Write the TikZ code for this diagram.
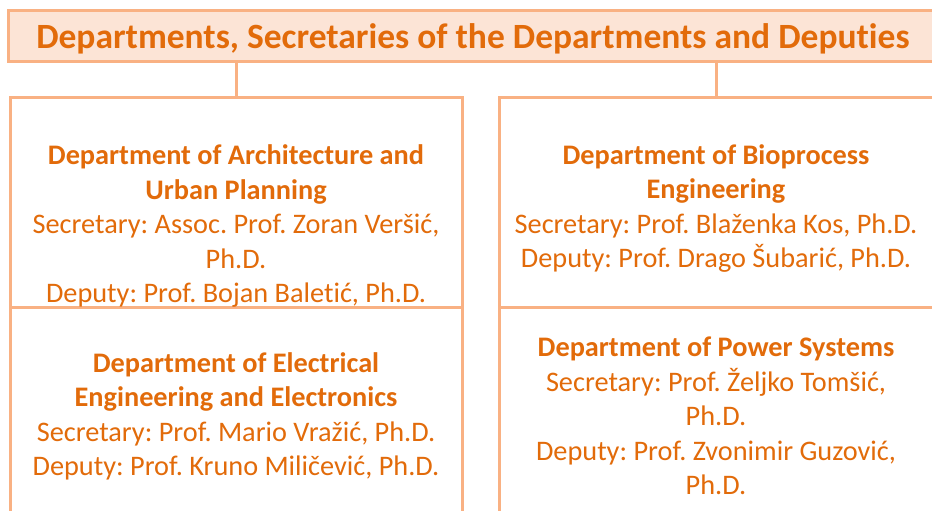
\documentclass[tikz,border=0pt]{standalone}
\usepackage{fontspec}
\setmainfont{Carlito}[RawFeature={-liga;-clig;-calt;-dlig;-rlig}]
\definecolor{txtor}{HTML}{E26B0A}
\definecolor{lnor}{HTML}{F9B183}
\definecolor{fillor}{HTML}{FCE4D6}
\tikzset{
  deptbox/.style={draw=lnor, line width=3pt, anchor=north west, inner sep=0pt, outer sep=0pt},
  titlebox/.style={draw=lnor, fill=fillor, line width=3pt, anchor=north west, inner sep=0pt, outer sep=0pt},
  titletext/.style={text=txtor, inner sep=0pt, font=\fontsize{35.5}{40}\selectfont\bfseries},
  depttext/.style={text=txtor, align=center, inner sep=0pt, font=\fontsize{28.3}{34.5}\selectfont},
  conn/.style={draw=lnor, line width=3pt}
}
\begin{document}
\frenchspacing
\begin{tikzpicture}[x=1pt,y=-1pt]
\clip (0,0) rectangle (932,511);
\fill[white] (0,0) rectangle (932,511);
\node[titlebox, minimum width=932pt, minimum height=51pt] (title) at (8,11) {};
\node[titletext] (tt) at (473,39) {Departments, Secretaries of the Departments and Deput\kern0pt ies};
\node[deptbox, minimum width=452pt, minimum height=210pt] (b1) at (10,97) {};
\node[deptbox, minimum width=434pt, minimum height=210pt] (b2) at (499,97) {};
\node[deptbox, minimum width=452pt, minimum height=230pt] (b3) at (10,307) {};
\node[deptbox, minimum width=434pt, minimum height=230pt] (b4) at (499,307) {};
\draw[conn] (title.south -| b1.north) -- (b1.north);
\draw[conn] (title.south -| b2.north) -- (b2.north);
\node[depttext] (t1) at (236,226) {\textbf{Department of Architecture and}\\\textbf{Urban Planning}\\Secretary: Assoc. Prof. Zoran Veršić,\\Ph.D.\\Deputy: Prof. Bojan Balet\kern0pt ić, Ph.D.};
\node[depttext] (t2) at (716,208.5) {\textbf{Department of Bioprocess}\\\textbf{Engineering}\\Secretary: Prof. Blaženka Kos, Ph.D.\\Deputy: Prof. Drago Šubarić, Ph.D.};
\node[depttext] (t3) at (236,416.5) {\textbf{Department of Electrical}\\\textbf{Engineering and Electronics}\\Secretary: Prof. Mario Vražić, Ph.D.\\Deputy: Prof. Kruno Miličević, Ph.D.};
\node[depttext] (t4) at (716,416) {\textbf{Department of Power Systems}\\Secretary: Prof. Željko Tomšić,\\Ph.D.\\Deputy: Prof. Zvonimir Guzović,\\Ph.D.};
\end{tikzpicture}
\end{document}
